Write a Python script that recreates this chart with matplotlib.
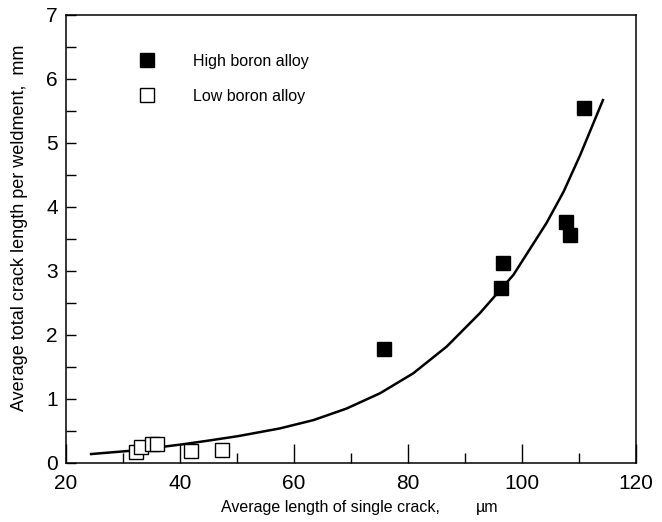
import matplotlib
matplotlib.use("Agg")
import matplotlib.pyplot as plt
from matplotlib.ticker import MultipleLocator

plt.rcParams['font.family'] = ['Liberation Sans', 'DejaVu Sans']

# High boron alloy (filled squares)
high_x = [75.8, 96.3, 96.7, 107.8, 108.5, 110.8]
high_y = [1.78, 2.74, 3.12, 3.76, 3.57, 5.55]

# Low boron alloy (open squares)
low_x = [32.2, 33.2, 35.1, 36.0, 41.9, 47.3]
low_y = [0.17, 0.25, 0.30, 0.30, 0.18, 0.21]

# Fitted curve
curve_x = [24.4, 31.2, 40.3, 45.0, 50.2, 57.5, 63.4, 69.2, 75.1, 80.9, 86.8,
           92.6, 98.5, 104.3, 107.3, 110.2, 114.2]
curve_y = [0.14, 0.19, 0.29, 0.35, 0.42, 0.54, 0.67, 0.85, 1.09, 1.40, 1.82,
           2.34, 2.94, 3.75, 4.24, 4.81, 5.67]

W, H = 662, 522
fig = plt.figure(figsize=(W/100, H/100), dpi=100)
ax = fig.add_axes([66/W, 1-463/H, (636-66)/W, (463-15)/H])

ax.plot(curve_x, curve_y, color='black', lw=1.8, zorder=2)
ax.plot(high_x, high_y, 's', ms=10, mfc='black', mec='black', ls='none',
        label='High boron alloy', zorder=3)
ax.plot(low_x, low_y, 's', ms=10, mfc='white', mec='black', mew=1.0, ls='none',
        label='Low boron alloy', zorder=3)

ax.set_xlim(20, 120)
ax.set_ylim(0, 7)
ax.xaxis.set_major_locator(MultipleLocator(20))
ax.xaxis.set_minor_locator(MultipleLocator(10))
ax.yaxis.set_major_locator(MultipleLocator(1))
ax.yaxis.set_minor_locator(MultipleLocator(0.5))
ax.tick_params(axis='x', which='major', direction='in', length=13.7, width=1.0,
               labelsize=15, pad=8, top=False)
ax.tick_params(axis='x', which='minor', direction='in', length=7.2, width=1.0, top=False)
ax.tick_params(axis='y', which='both', direction='in', length=7.2, width=1.0,
               labelsize=15, pad=6, right=False)
for s in ax.spines.values():
    s.set_linewidth(1.1)

# Axis titles
fig.text(221/W, 1-512/H, 'Average length of single crack,', fontsize=11.5,
         ha='left', va='baseline')
fig.text(476/W, 1-512/H, '\u00b5m', fontsize=11.5, ha='left', va='baseline')
fig.text(20/W, 1-411/H, 'Average total crack length per weldment,  mm', fontsize=13,
         rotation=90, ha='center', va='bottom')

ax.legend(loc='upper left', bbox_to_anchor=(0.103, 0.928), frameon=False,
          fontsize=11.5, handletextpad=1.9, labelspacing=1.25, borderaxespad=0)

fig.savefig('out.png', dpi=100)
